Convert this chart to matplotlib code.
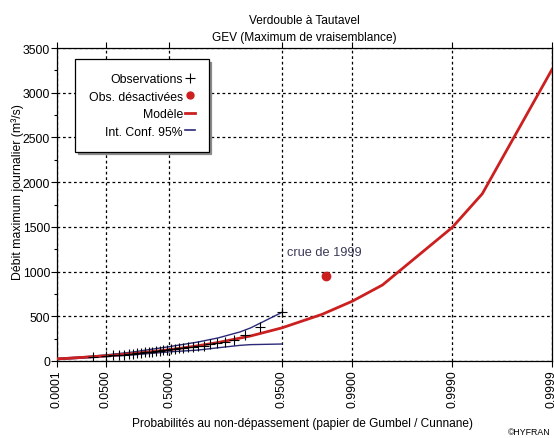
import numpy as np
import matplotlib
matplotlib.use("Agg")
import matplotlib.pyplot as plt
from matplotlib.lines import Line2D
from matplotlib.ticker import FixedLocator, MultipleLocator

plt.rcParams['font.family'] = ['Liberation Sans', 'DejaVu Sans']

# ---- data ----
obs_p = [0.0186, 0.0497, 0.0807, 0.1118, 0.1429, 0.1739, 0.2050, 0.2360, 0.2671, 0.2981,
         0.3292, 0.3602, 0.3913, 0.4224, 0.4534, 0.4845, 0.5155, 0.5466, 0.5776, 0.6087,
         0.6398, 0.6708, 0.7019, 0.7329, 0.7640, 0.7950, 0.8261, 0.8571, 0.8882, 0.9193,
         0.9503]
obs_q = [45, 55, 62, 68, 72, 78, 82, 88, 92, 97,
         102, 106, 110, 115, 120, 125, 130, 135, 140, 145,
         152, 158, 165, 172, 185, 198, 215, 240, 290, 375,
         543]

deact_p = [0.9817]
deact_q = [955]

model_p = [0.0001, 0.001, 0.01, 0.05, 0.1, 0.2, 0.3, 0.4, 0.5, 0.6, 0.7, 0.8, 0.9, 0.95,
           0.98, 0.99, 0.995, 0.999, 0.9995, 0.9999]
model_q = [24, 31, 44, 58, 68, 83, 97, 111, 126, 145, 170, 207, 280, 370,
           522, 669, 850, 1494, 1870, 3260]

ci_p = [0.0001, 0.01, 0.05, 0.2, 0.5, 0.7, 0.8, 0.874, 0.9, 0.95]
ci_upper = [30, 50, 68, 100, 160, 212, 258, 325, 370, 543]
ci_lower = [15, 35, 48, 68, 102, 122, 148, 175, 183, 190]

xtick_p = [0.0001, 0.05, 0.5, 0.95, 0.99, 0.999, 0.9999]
xtick_labels = ["0.0001", "0.0500", "0.5000", "0.9500", "0.9900", "0.9990", "0.9999"]
yticks = [0, 500, 1000, 1500, 2000, 2500, 3000, 3500]

# ---- Gumbel probability scale ----
def fwd(p):
    p = np.clip(np.asarray(p, dtype=float), 1e-12, 1 - 1e-12)
    return -np.log(-np.log(p))

def inv(u):
    return np.exp(-np.exp(-np.asarray(u, dtype=float)))

W, H = 554, 439
fig = plt.figure(figsize=(W / 100, H / 100), dpi=100)
fig.patch.set_facecolor('white')
ax = fig.add_axes([57 / W, 1 - 362 / H, (552 - 57) / W, (362 - 49) / H])
ax.set_xscale('function', functions=(fwd, inv))
ax.set_xlim(0.0001, 0.9999)
ax.set_ylim(0, 3500)

navy = '#2a2a78'
red = '#cc2020'

# ticks & grid
ax.xaxis.set_major_locator(FixedLocator(xtick_p))
ax.set_xticklabels(xtick_labels, rotation=90, fontsize=8.8)
ax.xaxis.set_minor_locator(FixedLocator([]))
ax.yaxis.set_major_locator(FixedLocator(yticks))
ax.yaxis.set_minor_locator(MultipleLocator(250))
ax.tick_params(axis='y', labelsize=8.8, direction='out', length=4, width=0.8, pad=1)
ax.tick_params(axis='y', which='minor', length=2.5, width=0.8)
ax.tick_params(axis='x', direction='out', length=4, width=0.8, top=True, pad=2)
ax.grid(True, which='major', color='black', linestyle=(0, (2.2, 2.2)), linewidth=0.9)
for s in ax.spines.values():
    s.set_linewidth(0.9)

# series
ax.plot(ci_p, ci_upper, color=navy, lw=1.0, zorder=3)
ax.plot(ci_p, ci_lower, color=navy, lw=1.0, zorder=3)
ax.plot(model_p, model_q, color=red, lw=2.0, zorder=4)
ax.plot(obs_p, obs_q, linestyle='none', marker='+', color='black', markersize=7,
        markeredgewidth=0.8, zorder=5)
ax.plot(deact_p, deact_q, linestyle='none', marker='o', color=red, markersize=6, zorder=5)
ax.text(0.9559, 1223, 'crue de 1999', fontsize=9.2, color='#3a3a58', va='center', ha='left')

# legend
handles = [
    Line2D([], [], linestyle='none', marker='+', color='black', markersize=7, markeredgewidth=0.8),
    Line2D([], [], linestyle='none', marker='o', color=red, markersize=5),
    Line2D([], [], color=red, lw=2),
    Line2D([], [], color=navy, lw=1.2),
]
labels = ['Observations', 'Obs. désactivées', 'Modèle', 'Int. Conf. 95%']
leg = ax.legend(handles, labels, loc='upper left', bbox_to_anchor=(0.036, 0.965),
                borderaxespad=0, markerfirst=False, fontsize=8.8, handlelength=0.8,
                handletextpad=0.15, labelspacing=0.45, borderpad=1.15, fancybox=False,
                framealpha=1, edgecolor='black', shadow={'color': '0.55', 'alpha': 1})
leg.get_frame().set_linewidth(0.9)

# texts
fig.text(304 / W, 1 - 21 / H, 'Verdouble à Tautavel', ha='center', va='center', fontsize=8.6)
fig.text(304 / W, 1 - 38 / H, 'GEV (Maximum de vraisemblance)', ha='center', va='center', fontsize=8.6)
fig.text(18 / W, 1 - 192 / H, 'Débit maximum journalier (m³/s)', rotation=90,
         ha='center', va='center', fontsize=8.8)
fig.text(302 / W, 1 - 424 / H, 'Probabilités au non-dépassement (papier de Gumbel / Cunnane)',
         ha='center', va='center', fontsize=8.6)
fig.text(551 / W, 1 - 433 / H, '©HYFRAN', ha='right', va='center', fontsize=6.3)

fig.savefig('out.png', dpi=100, facecolor='white')
